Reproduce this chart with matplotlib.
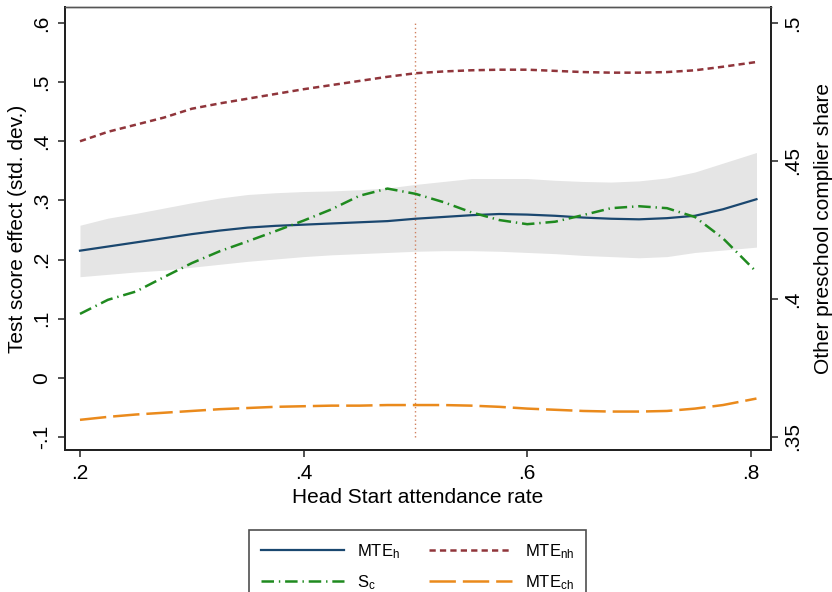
import matplotlib
matplotlib.use('Agg')

import matplotlib.pyplot as plt

plt.rcParams['font.family'] = ['Liberation Sans', 'DejaVu Sans']
plt.rcParams['mathtext.fontset'] = 'custom'
plt.rcParams['mathtext.rm'] = 'Liberation Sans'
plt.rcParams['mathtext.it'] = 'Liberation Sans:italic'
plt.rcParams['lines.scale_dashes'] = False

# Head Start attendance rate grid
attend = [0.2, 0.225, 0.25, 0.275, 0.3, 0.325, 0.35, 0.375, 0.4, 0.425, 0.45, 0.475,
          0.5, 0.525, 0.55, 0.575, 0.6, 0.625, 0.65, 0.675, 0.7, 0.725, 0.75, 0.775, 0.805]

# test score effects (std. dev.), left axis
mte_h = [0.215, 0.222, 0.229, 0.236, 0.243, 0.249, 0.254, 0.257, 0.259, 0.261, 0.263, 0.265,
         0.269, 0.272, 0.275, 0.277, 0.276, 0.274, 0.271, 0.269, 0.268, 0.270, 0.274, 0.285, 0.302]
mte_h_hi = [0.258, 0.270, 0.278, 0.287, 0.296, 0.304, 0.310, 0.313, 0.315, 0.316, 0.318, 0.321,
            0.327, 0.332, 0.337, 0.337, 0.337, 0.334, 0.332, 0.331, 0.333, 0.338, 0.348, 0.363, 0.381]
mte_h_lo = [0.171, 0.175, 0.179, 0.182, 0.187, 0.192, 0.197, 0.201, 0.205, 0.208, 0.210, 0.212,
            0.214, 0.215, 0.215, 0.214, 0.212, 0.210, 0.207, 0.205, 0.203, 0.205, 0.212, 0.216, 0.221]
mte_nh = [0.400, 0.416, 0.428, 0.440, 0.455, 0.464, 0.472, 0.480, 0.488, 0.495, 0.502, 0.509,
          0.515, 0.518, 0.520, 0.521, 0.521, 0.519, 0.517, 0.516, 0.516, 0.517, 0.520, 0.526, 0.534]
mte_ch = [-0.071, -0.066, -0.062, -0.059, -0.056, -0.053, -0.051, -0.049, -0.048, -0.047, -0.047, -0.046,
          -0.046, -0.046, -0.047, -0.049, -0.052, -0.054, -0.056, -0.057, -0.057, -0.056, -0.052, -0.046, -0.035]

# other preschool complier share, right axis
s_c = [0.3946, 0.3997, 0.4027, 0.4079, 0.4130, 0.4173, 0.4209, 0.4246, 0.4284, 0.4325, 0.4374, 0.4400,
       0.4381, 0.4351, 0.4314, 0.4286, 0.4271, 0.4280, 0.4304, 0.4329, 0.4336, 0.4329, 0.4297, 0.4220, 0.4098]

xticks = [0.2, 0.4, 0.6, 0.8]
xtick_labels = ['.2', '.4', '.6', '.8']
yticks = [-0.1, 0, 0.1, 0.2, 0.3, 0.4, 0.5, 0.6]
ytick_labels = ['-.1', '0', '.1', '.2', '.3', '.4', '.5', '.6']
y2ticks = [0.35, 0.4, 0.45, 0.5]
y2tick_labels = ['.35', '.4', '.45', '.5']

navy = '#1a476f'
maroon = '#90353b'
green = '#1f8a1f'
orange = '#ea8a1c'

fig = plt.figure(figsize=(8.32, 5.92), dpi=100)
ax1 = fig.add_axes([65 / 832, 1 - 450 / 592, (771 - 65) / 832, (450 - 7) / 592])

ylo, yhi = -0.122, 0.627
# right axis is a linear rescale of the left one: -.1 -> .35, .6 -> .5
def to_right(v):
    return 0.35 + (v + 0.1) * 0.15 / 0.7

ax1.fill_between(attend, mte_h_lo, mte_h_hi, color='#e5e5e5', lw=0, zorder=1)
ax1.vlines(0.5, -0.1, 0.6, colors='#d0805f', linestyles=(0, (1, 2)), lw=1.0, zorder=2)
l_h, = ax1.plot(attend, mte_h, color=navy, lw=1.6, zorder=4)
l_nh, = ax1.plot(attend, mte_nh, color=maroon, lw=1.8, linestyle=(0, (4.5, 3)), zorder=4)
l_ch, = ax1.plot(attend, mte_ch, color=orange, lw=1.8, linestyle=(0, (19, 5)), zorder=4)

ax1.set_xlim(0.1866, 0.818)
ax1.set_ylim(ylo, yhi)
ax1.set_xticks(xticks)
ax1.set_xticklabels(xtick_labels)
ax1.set_yticks(yticks)
ax1.set_yticklabels(ytick_labels)
ax1.tick_params(axis='both', direction='out', length=5, width=1.2, labelsize=15, color='#333333')
ax1.tick_params(axis='y', labelrotation=90, pad=5)
ax1.tick_params(axis='x', pad=5)
for lab in ax1.get_yticklabels():
    lab.set_verticalalignment('center')
ax1.set_xlabel('Head Start attendance rate', fontsize=15, labelpad=4)
ax1.set_ylabel('Test score effect (std. dev.)', fontsize=15, labelpad=4)

ax2 = ax1.twinx()
l_sc, = ax2.plot(attend, s_c, color=green, lw=1.8, linestyle=(0, (9, 3.5, 1, 3.5)), zorder=4)
ax2.set_ylim(to_right(ylo), to_right(yhi))
ax2.set_yticks(y2ticks)
ax2.set_yticklabels(y2tick_labels)
ax2.tick_params(axis='y', direction='out', length=5, width=1.2, labelsize=15,
                labelrotation=90, pad=4, color='#333333')
for lab in ax2.get_yticklabels():
    lab.set_verticalalignment('center')
ax2.set_ylabel('Other preschool complier share', fontsize=15, labelpad=8)

for ax in (ax1, ax2):
    for side in ('left', 'bottom', 'right'):
        ax.spines[side].set_linewidth(1.4)
        ax.spines[side].set_color('#222222')
    ax.spines['top'].set_linewidth(1.0)
    ax.spines['top'].set_color('#555555')

leg = fig.legend([l_h, l_sc, l_nh, l_ch],
                 [r'MTE$_{\mathrm{h}}$', r'S$_{\mathrm{c}}$', r'MTE$_{\mathrm{nh}}$', r'MTE$_{\mathrm{ch}}$'],
                 ncol=2, loc='upper center', bbox_to_anchor=(0.502, 1 - 522 / 592),
                 fontsize=12, frameon=True, fancybox=False, edgecolor='#222222',
                 handlelength=5.0, handletextpad=0.8, columnspacing=1.7,
                 labelspacing=0.75, borderpad=0.7)
leg.get_frame().set_linewidth(1.2)

fig.savefig('out.png', dpi=100)
